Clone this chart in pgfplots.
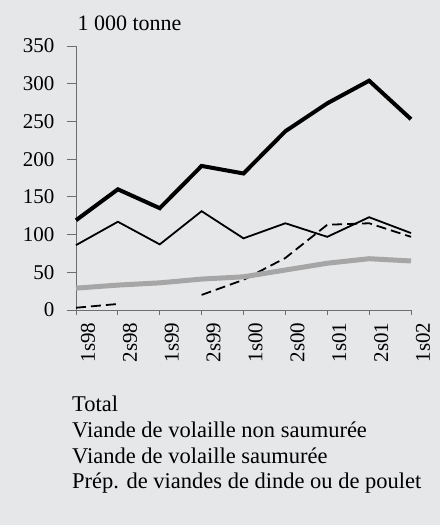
\documentclass[border=0pt]{standalone}
\usepackage{pgfplots}
\pgfplotsset{compat=1.18}
\usepackage{fontspec}
\setmainfont{Liberation Serif}
\definecolor{bg}{RGB}{230,231,233}
\definecolor{axgray}{RGB}{110,110,110}
\definecolor{prep}{RGB}{166,166,166}
\begin{document}
\begin{tikzpicture}[x=1pt,y=1pt]
\fill[bg] (0,0) rectangle (440,525);
\begin{axis}[
 at={(76pt,215pt)}, anchor=south west,
 scale only axis, width=335pt, height=264pt,
 xmin=0, xmax=8, ymin=0, ymax=350,
 axis lines*=left,
 axis line style={axgray, line width=0.8pt},
 xtick={0,...,8},
 xticklabels={1s98,2s98,1s99,2s99,1s00,2s00,1s01,2s01,1s02},
 ytick={0,50,...,350},
 tick align=outside,
 major tick length=9pt,
 tick style={axgray, line width=0.8pt},
 xtick style={/pgfplots/major tick length=5pt},
 x tick label style={rotate=90, anchor=east, yshift=-12pt},
 y tick label style={xshift=-9pt},
 tick label style={font=\fontsize{21}{24}\selectfont},
 /pgf/number format/assume math mode=true,
 /pgf/number format/1000 sep={},
 clip=false,
 legend cell align=left,
 legend style={at={(rel axis cs:-0.018,-0.318)}, anchor=north west, draw=none, fill=none, font=\fontsize{22.5}{25}\selectfont, row sep=4.5pt, inner sep=0pt},
 legend image code/.code={},
 unbounded coords=jump,
]
\addplot[black, line width=4pt] coordinates {(0,119) (1,160) (2,135) (3,191) (4,181) (5,237) (6,274) (7,304) (8,253)};
\addlegendentry{Total}
\addplot[black, line width=1.8pt] coordinates {(0,86) (1,117) (2,87) (3,131) (4,95) (5,115) (6,97) (7,123) (8,102)};
\addlegendentry{Viande de volaille non saumurée}
\addplot[black, line width=1.8pt, dash pattern=on 10pt off 5pt] coordinates {(0,3) (1,8) (2,nan) (3,20) (4,40) (5,69) (6,113) (7,115) (8,97)};
\addlegendentry{Viande de volaille saumurée}
\addplot[prep, line width=5pt] coordinates {(0,29) (1,33) (2,36) (3,41) (4,44) (5,53) (6,62) (7,68) (8,65)};
\addlegendentry{Prép. de viandes de dinde ou de poulet}
\node[anchor=west, font=\fontsize{22}{24}\selectfont] at (rel axis cs:-0.006,1.087) {1 000 tonne};
\end{axis}
\end{tikzpicture}
\end{document}
